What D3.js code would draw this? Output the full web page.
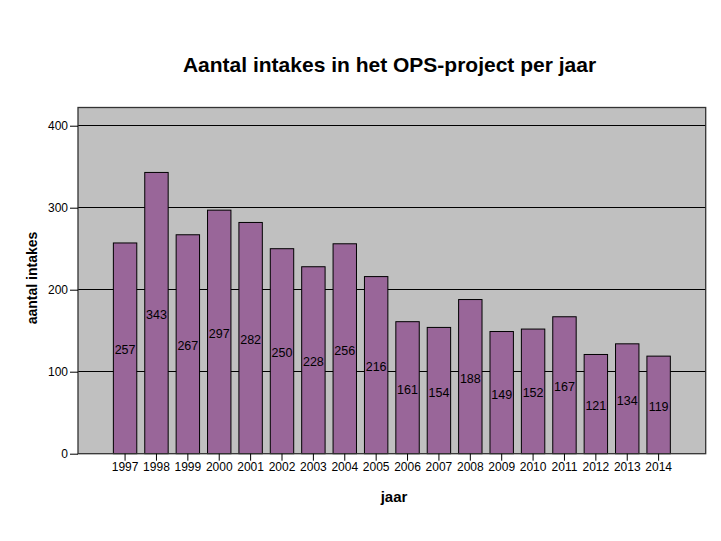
<!DOCTYPE html>
<html><head><meta charset="utf-8">
<script src="https://cdn.jsdelivr.net/npm/d3@7"></script>
<style>body{margin:0;background:#fff;}svg{display:block;font-family:"Liberation Sans",Arial,sans-serif;}</style>
</head><body>
<svg id="c" width="721" height="541"></svg>
<script>
const years = ["1997","1998","1999","2000","2001","2002","2003","2004","2005","2006","2007","2008","2009","2010","2011","2012","2013","2014"];
const values = [257,343,267,297,282,250,228,256,216,161,154,188,149,152,167,121,134,119];
const yTicks = [0,100,200,300,400];
const titleText = "Aantal intakes in het OPS-project per jaar";
const xLabel = "jaar";
const yLabel = "aantal intakes";

const svg = d3.select("#c");
const L = 78, R = 705.7, T = 107.5, B = 453.7;
const x = d3.scaleBand().domain(years).range([L, R]).paddingInner(0.254).paddingOuter(1.127);
const y = d3.scaleLinear().domain([0, 422.2]).range([B, T]);

svg.append("rect").attr("x", L).attr("y", T).attr("width", R - L).attr("height", B - T)
  .attr("fill", "#c0c0c0");

svg.append("g").selectAll("line").data(yTicks.filter(d => d > 0)).join("line")
  .attr("x1", L).attr("x2", R).attr("y1", d => y(d)).attr("y2", d => y(d))
  .attr("stroke", "#000").attr("stroke-width", 1).attr("shape-rendering", "crispEdges");

svg.append("g").selectAll("rect").data(values).join("rect")
  .attr("x", (d, i) => x(years[i])).attr("width", x.bandwidth())
  .attr("y", d => y(d)).attr("height", d => B - y(d))
  .attr("fill", "#996699").attr("stroke", "#000").attr("stroke-width", 1);

svg.append("g").selectAll("text").data(values).join("text")
  .attr("x", (d, i) => x(years[i]) + x.bandwidth() / 2)
  .attr("y", d => (y(d) + B) / 2 + 6)
  .attr("text-anchor", "middle").attr("font-size", 12.5).attr("fill", "#000")
  .text(d => d);

svg.append("rect").attr("x", L).attr("y", T).attr("width", R - L).attr("height", B - T)
  .attr("fill", "none").attr("stroke", "#333").attr("stroke-width", 1.3);

const ya = d3.axisLeft(y).tickValues(yTicks).tickSize(8).tickPadding(2);
const gy = svg.append("g").attr("transform", `translate(${L},0)`).call(ya);
gy.select(".domain").remove();
gy.selectAll("text").attr("font-size", 12).attr("fill", "#000").style("font-family", "Liberation Sans, Arial, sans-serif");

const xa = d3.axisBottom(x).tickSize(7).tickPadding(2);
const gx = svg.append("g").attr("transform", `translate(0,${B})`).call(xa);
gx.select(".domain").remove();
gx.selectAll("text").attr("font-size", 12).attr("fill", "#000").style("font-family", "Liberation Sans, Arial, sans-serif");

svg.append("text").attr("x", 389.5).attr("y", 72).attr("text-anchor", "middle")
  .attr("font-size", 21).attr("font-weight", "bold").text(titleText);
svg.append("text").attr("x", 394).attr("y", 502).attr("text-anchor", "middle")
  .attr("font-size", 15).attr("font-weight", "bold").text(xLabel);
svg.append("text").attr("transform", "translate(37,278) rotate(-90)").attr("text-anchor", "middle")
  .attr("font-size", 14).attr("font-weight", "bold").text(yLabel);
</script>
</body></html>
